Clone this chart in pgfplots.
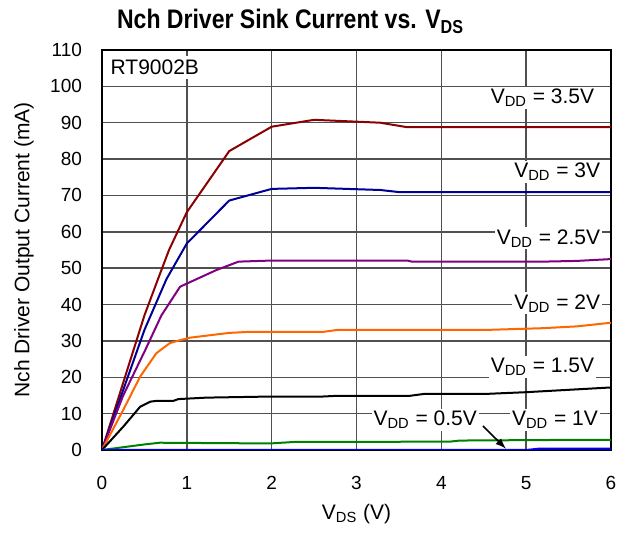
\documentclass[border=0pt]{standalone}
\usepackage{pgfplots}
\pgfplotsset{compat=1.18}
\usepackage{graphicx}
\usepackage{fontspec}
\setmainfont{Liberation Sans}
\definecolor{cdred}{RGB}{139,0,0}
\definecolor{cnavy}{RGB}{0,0,150}
\definecolor{cpurp}{RGB}{128,0,128}
\definecolor{corange}{RGB}{255,102,0}
\definecolor{cgreen}{RGB}{0,128,0}
\definecolor{cblue}{RGB}{0,0,255}
\definecolor{cgrid}{RGB}{80,80,80}
\begin{document}
\begin{tikzpicture}
\begin{axis}[
  name=ax,
  scale only axis,
  width=254.5pt, height=200pt,
  xmin=0, xmax=6, ymin=0, ymax=110,
  xtick={0,1,2,3,4,5,6},
  ytick={0,10,...,110},
  grid=major,
  major grid style={cgrid, line width=0.75pt},
  axis line style={black, line width=0.8pt},
  tick style={draw=none},
  tick label style={font=\fontsize{9.5}{11}\selectfont},
  yticklabel style={xshift=-6.5pt},
  xticklabel style={yshift=-9.5pt},
  /pgf/number format/assume math mode=true,
  clip mode=individual,
]
% 3.5V
\addplot[cdred, line width=1pt] coordinates {
(0,0) (0.5,37) (0.66,47) (0.79,55) (1.0,65.4) (1.5,82.2) (2.0,88.9) (2.5,90.8) (3.28,90) (3.59,88.8) (4,88.8) (5,88.8) (6,88.8)};
% 3V
\addplot[cnavy, line width=1pt] coordinates {
(0,0) (0.5,33) (0.76,47) (1.0,56.8) (1.5,68.6) (2.0,71.8) (2.5,72.1) (3.28,71.5) (3.51,70.9) (4,70.9) (5,70.9) (6,70.9)};
% 2.5V
\addplot[cpurp, line width=1pt] coordinates {
(0,0) (0.25,15) (0.51,27.5) (0.7,37) (0.92,44.9) (1.35,49.5) (1.61,51.8) (2.0,52.1) (3.0,52.1) (3.6,52.1) (3.65,51.8) (5.2,51.8) (5.6,52) (6,52.5)};
% 2V
\addplot[corange, line width=1pt] coordinates {
(0,0) (0.25,11) (0.45,20.2) (0.64,26.6) (0.8,29.4) (0.92,30.2) (1.04,30.9) (1.5,32.2) (1.74,32.5) (2.61,32.5) (2.77,33) (4.5,33) (5.2,33.5) (5.6,34) (6,35)};
% 1.5V
\addplot[black, line width=1pt] coordinates {
(0,0) (0.25,6.4) (0.45,11.9) (0.57,13.3) (0.64,13.5) (0.84,13.5) (0.9,14) (1.23,14.4) (1.98,14.7) (2.6,14.7) (2.77,14.9) (3.63,14.9) (3.79,15.4) (4.5,15.4) (5.0,15.9) (6,17.2)};
% 1V
\addplot[cgreen, line width=1pt] coordinates {
(0,0) (0.49,1.5) (0.68,2.0) (1.98,1.8) (2.26,2.2) (4.1,2.3) (4.22,2.6) (5.28,2.75) (6,2.75)};
% 0.5V
\addplot[cblue, line width=1pt] coordinates {
(0,0) (5.0,0) (5.16,0.4) (6,0.4)};
% labels
\begin{scope}[every node/.style={fill=white, inner sep=1pt, font=\fontsize{10.5}{12}\selectfont}]
\node[anchor=west, inner sep=2pt] at (axis cs:0.05,105.3) {RT9002B};
\node[anchor=east] at (axis cs:5.83,96.8) {V\textsubscript{DD} = 3.5V};
\node[anchor=east] at (axis cs:5.9,76.5) {V\textsubscript{DD} = 3V};
\node[anchor=east] at (axis cs:5.9,58.2) {V\textsubscript{DD} = 2.5V};
\node[anchor=east] at (axis cs:5.9,40.3) {V\textsubscript{DD} = 2V};
\node[anchor=east] at (axis cs:5.83,22.9) {V\textsubscript{DD} = 1.5V};
\node[anchor=center] at (axis cs:3.81,8.25) {V\textsubscript{DD} = 0.5V};
\node[anchor=center] at (axis cs:5.34,8.25) {V\textsubscript{DD} = 1V};
\end{scope}
\draw[-latex, line width=0.8pt] (axis cs:4.49,6.6) -- (axis cs:4.76,0.4);
\end{axis}
\node[font=\fontsize{10.5}{12}\selectfont] at ([yshift=-32pt]ax.south) {V\textsubscript{DS} (V)};
\node[font=\fontsize{10.5}{12}\selectfont, rotate=90] at ([xshift=-39pt]ax.west) {Nch Driver Output Current (mA)};
\node[anchor=base, font=\fontsize{13.4}{15}\selectfont\bfseries] at ([shift={(-33pt,10.5pt)}]ax.north) {\scalebox{0.86}[1]{Nch Driver Sink Current vs. V\textsubscript{DS}}};
\pgfresetboundingbox
\path[use as bounding box] ([shift={(-51pt,-44pt)}]ax.south west) rectangle ([shift={(11.5pt,25pt)}]ax.north east);
\end{tikzpicture}
\end{document}
